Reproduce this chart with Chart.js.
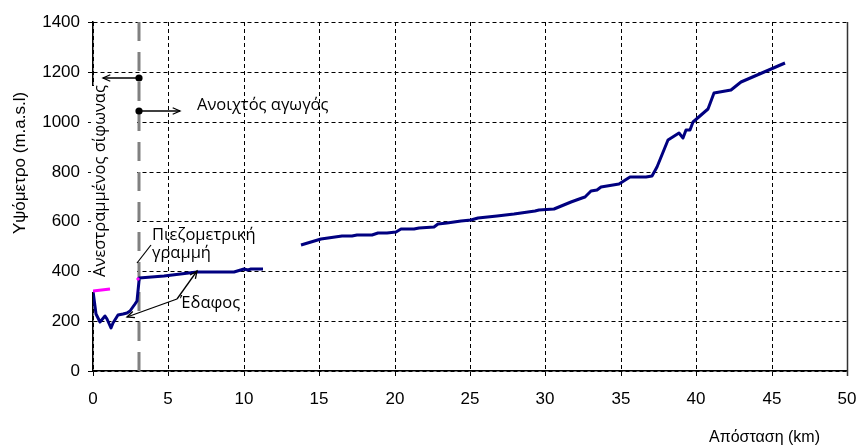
<!DOCTYPE html>
<html><head><meta charset="utf-8">
<script src="https://cdn.jsdelivr.net/npm/chart.js@4.4.0/dist/chart.umd.min.js"></script>
<style>html,body{margin:0;padding:0;background:#fff;overflow:hidden}#wrap{width:859px;height:446px;position:relative}</style>
</head><body><div id="wrap"><canvas id="c" width="859" height="446"></canvas></div>
<script>
// ---- data ----
const xTicks = [0, 5, 10, 15, 20, 25, 30, 35, 40, 45, 50];
const yTicks = [0, 200, 400, 600, 800, 1000, 1200, 1400];

// ground profile (km, m a.s.l.) - first reach (siphon + start of open channel)
const groundDist1 = [0, 0.2, 0.47, 0.8, 0.9, 1.17, 1.35, 1.68, 1.97, 2.24, 2.46, 2.79, 2.95, 3.06, 3.08, 4.68, 6.9, 9.33, 10.0, 10.3, 10.5, 11.3];
const groundElev1 = [322, 229, 198, 221, 209, 174, 194, 225, 228, 232, 241, 268, 282, 362, 373, 382, 398, 398, 409, 405, 409, 409];
// ground profile - second reach
const groundDist2 = [13.76, 15.1, 16.5, 17.2, 17.5, 18.5, 18.9, 19.5, 20.1, 20.4, 21.3, 21.6, 22.6, 22.85, 23.5, 24.4, 25.07, 25.5, 26.8, 27.9, 29.3, 29.6, 30.6, 31.7, 32.4, 32.6, 33.05, 33.4, 33.7, 34.9, 35.6, 36.7, 37.1, 37.4, 38.1, 38.85, 39.1, 39.3, 39.6, 39.8, 40.8, 41.2, 42.3, 43.0, 45.9];
const groundElev2 = [505, 529, 540, 540, 547, 547, 552, 555, 559, 570, 570, 574, 577, 590, 595, 600, 607, 613, 621, 630, 640, 644, 648, 677, 695, 700, 721, 726, 740, 751, 777, 777, 784, 818, 928, 956, 935, 968, 968, 999, 1052, 1115, 1126, 1160, 1234];
// piezometric line
const piezoDist1 = [0, 1.1];
const piezoElev1 = [322, 330];
const piezoDist2 = [2.92, 3.06];
const piezoElev2 = [366, 373];

// annotation anchors (data units)
const siphonEndKm = 3.05;
const siphonArrow = {from: [3.05, 1175], to: [0.66, 1175]};
const channelArrow = {from: [3.05, 1044], to: [5.77, 1044]};
const piezoLeader = {from: [2.9, 432], to: [3.83, 505]};
const groundArrows = [{from: [5.55, 288], to: [2.23, 217]}, {from: [5.55, 288], to: [6.88, 400]}];
const siphonBox = {x0: -0.1, x1: 2.95, y0: 316, y1: 1143};

const labels = {
  yTitle: 'Υψόμετρο (m.a.s.l)',
  xTitle: 'Απόσταση (km)',
  siphon: 'Ανεστραμμένος σίφωνας',
  channel: 'Ανοιχτός αγωγός',
  piezo1: 'Πιεζομετρική',
  piezo2: 'γραμμή',
  ground: 'Έδαφος'
};

const pts = (xs, ys) => xs.map((v, i) => ({x: v, y: ys[i]}));

function arrow(ctx, x1, y1, x2, y2) {
  ctx.beginPath(); ctx.moveTo(x1, y1); ctx.lineTo(x2, y2); ctx.stroke();
  const a = Math.atan2(y2 - y1, x2 - x1), L = 8, w = 0.42;
  ctx.beginPath();
  ctx.moveTo(x2 - L * Math.cos(a - w), y2 - L * Math.sin(a - w));
  ctx.lineTo(x2, y2);
  ctx.lineTo(x2 - L * Math.cos(a + w), y2 - L * Math.sin(a + w));
  ctx.stroke();
}

const annot = {
  id: 'annot',
  beforeDatasetsDraw(chart) {
    const {ctx, scales: {x, y}, chartArea} = chart;
    ctx.save();
    // right frame line
    const rx = Math.round(chartArea.right) + 0.5;
    ctx.strokeStyle = '#333'; ctx.lineWidth = 1.5;
    ctx.beginPath(); ctx.moveTo(rx, chartArea.top); ctx.lineTo(rx, chartArea.bottom + 5); ctx.stroke();
    // white box behind rotated siphon label
    ctx.fillStyle = '#fff';
    const bx0 = x.getPixelForValue(siphonBox.x0), bx1 = x.getPixelForValue(siphonBox.x1);
    const by0 = y.getPixelForValue(siphonBox.y1), by1 = y.getPixelForValue(siphonBox.y0);
    ctx.fillRect(bx0, by0, bx1 - bx0, by1 - by0);
    // grey dashed separation line
    const px = x.getPixelForValue(siphonEndKm);
    ctx.strokeStyle = '#808080'; ctx.lineWidth = 3; ctx.setLineDash([19, 11]);
    ctx.beginPath(); ctx.moveTo(px, y.getPixelForValue(1400)); ctx.lineTo(px, y.getPixelForValue(0)); ctx.stroke();
    ctx.restore();
  },
  afterDatasetsDraw(chart) {
    const {ctx, scales: {x, y}, chartArea} = chart;
    const P = p => [x.getPixelForValue(p[0]), y.getPixelForValue(p[1])];
    ctx.save();
    ctx.strokeStyle = '#000'; ctx.fillStyle = '#000'; ctx.lineWidth = 1.3; ctx.setLineDash([]);
    for (const ar of [siphonArrow, channelArrow, ...groundArrows]) {
      const [a, b] = P(ar.from), [c, d] = P(ar.to);
      arrow(ctx, a, b, c, d);
    }
    for (const ar of [siphonArrow, channelArrow]) {
      const [a, b] = P(ar.from);
      ctx.beginPath(); ctx.arc(a, b, 3.6, 0, Math.PI * 2); ctx.fill();
    }
    {
      const [a, b] = P(piezoLeader.from), [c, d] = P(piezoLeader.to);
      ctx.lineWidth = 1.2;
      ctx.beginPath(); ctx.moveTo(a, b); ctx.lineTo(c, d); ctx.stroke();
    }
    ctx.font = '16.5px "Open Sans", "Noto Sans", sans-serif';
    ctx.textBaseline = 'middle'; ctx.textAlign = 'left';
    ctx.fillText(labels.channel, x.getPixelForValue(6.88), y.getPixelForValue(1067));
    ctx.fillText(labels.piezo1, x.getPixelForValue(3.91), y.getPixelForValue(545));
    ctx.fillText(labels.piezo2, x.getPixelForValue(3.91), y.getPixelForValue(473));
    ctx.fillText(labels.ground, x.getPixelForValue(5.77), y.getPixelForValue(272));
    ctx.save();
    ctx.translate(x.getPixelForValue(0.46), y.getPixelForValue(762));
    ctx.rotate(-Math.PI / 2);
    ctx.textAlign = 'center';
    ctx.fillText(labels.siphon, 0, 0);
    ctx.restore();
    ctx.font = '16px "Liberation Sans", Arial, sans-serif';
    ctx.textAlign = 'right';
    ctx.fillText(labels.xTitle, chartArea.right - 27, 438);
    ctx.save();
    ctx.font = '17px "Liberation Sans", Arial, sans-serif';
    ctx.translate(20, 163);
    ctx.rotate(-Math.PI / 2);
    ctx.textAlign = 'center';
    ctx.fillText(labels.yTitle, 0, 0);
    ctx.restore();
    ctx.restore();
  }
};

const tickFont = {family: '"Liberation Sans", Arial, sans-serif', size: 17};
const gridColor = c => (c.tick && c.tick.value === 50) ? 'rgba(0,0,0,0)' : '#000';

new Chart(document.getElementById('c'), {
  type: 'scatter',
  data: {
    datasets: [
      {data: pts(piezoDist1, piezoElev1), showLine: true, borderColor: '#ff00ff', borderWidth: 3, pointRadius: 0},
      {data: pts(piezoDist2, piezoElev2), showLine: true, borderColor: '#ff00ff', borderWidth: 3, pointRadius: 0},
      {data: pts(groundDist1, groundElev1), showLine: true, borderColor: '#000080', borderWidth: 3, pointRadius: 0, borderJoinStyle: 'round'},
      {data: pts(groundDist2, groundElev2), showLine: true, borderColor: '#000080', borderWidth: 3, pointRadius: 0, borderJoinStyle: 'round'}
    ]
  },
  options: {
    responsive: false,
    animation: false,
    devicePixelRatio: 1,
    layout: {padding: {left: 0, right: 12, top: 22, bottom: 0}},
    plugins: {legend: {display: false}, tooltip: {enabled: false}},
    scales: {
      x: {
        type: 'linear', min: 0, max: 50, alignToPixels: true,
        afterBuildTicks: s => { s.ticks = xTicks.map(v => ({value: v})); },
        afterFit: s => { s.height = 75; s.paddingLeft = 0; s.paddingRight = 0; },
        ticks: {font: tickFont, color: '#000', padding: 13, maxRotation: 0, autoSkip: false, callback: v => String(v)},
        grid: {color: gridColor, lineWidth: 1, tickLength: 5, tickColor: '#000'},
        border: {display: true, color: '#000', width: 1.5, dash: [4, 3]}
      },
      y: {
        type: 'linear', min: 0, max: 1400, alignToPixels: true,
        afterBuildTicks: s => { s.ticks = yTicks.map(v => ({value: v})); },
        afterFit: s => { s.width = 93; s.paddingTop = 0; s.paddingBottom = 0; },
        ticks: {font: tickFont, color: '#000', padding: 8, callback: v => String(v)},
        grid: {color: '#000', lineWidth: 1, tickLength: 5, tickColor: '#000'},
        border: {display: true, color: '#000', width: 1.5, dash: [4, 3]}
      }
    }
  },
  plugins: [annot]
});
</script></body></html>
